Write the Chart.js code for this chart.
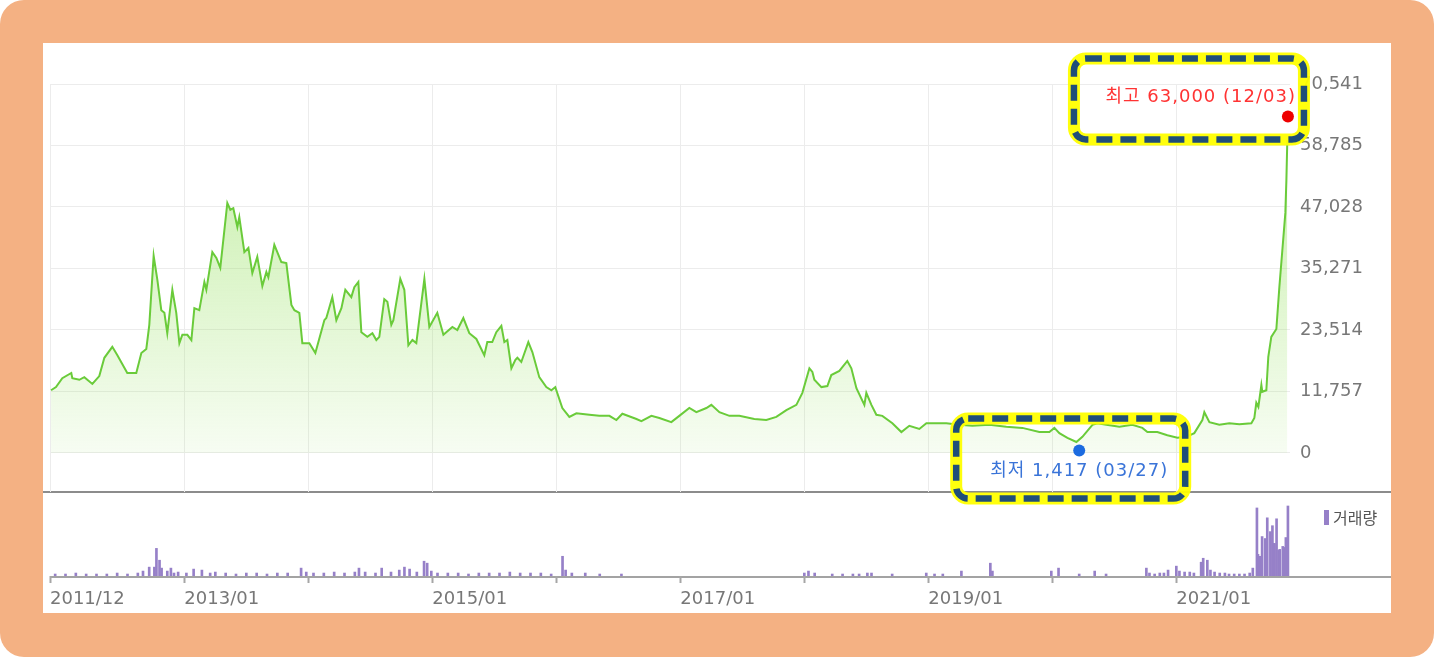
<!DOCTYPE html>
<html lang="ko">
<head>
<meta charset="utf-8">
<title>주가 차트</title>
<script src="https://cdn.jsdelivr.net/npm/chart.js@4.4.1/dist/chart.umd.min.js"></script>
<style>
  html, body { margin: 0; padding: 0; background: #fff; }
  #frame { position: relative; width: 1434px; height: 657px; background: #f4b183; border-radius: 24px; overflow: hidden; }
  #panel { position: absolute; left: 43px; top: 43px; width: 1348px; height: 570px; background: #fff; }
  .rule { position: absolute; }
  #divider { left: 0; top: 448px; width: 1348px; height: 2px; background: #8c8c8c; }
  #baseline { left: 7px; top: 533px; width: 1341px; height: 2px; background: #a3a3a3; }
  canvas { position: absolute; left: 0; }
  #priceChart { top: 0; }
  #volumeChart { top: 450px; }
</style>
</head>
<body>
<div id="frame">
  <div id="panel">
    <div class="rule" id="divider"></div>
    <div class="rule" id="baseline"></div>
    <canvas id="volumeChart" width="1348" height="120"></canvas>
    <canvas id="priceChart" width="1348" height="570"></canvas>
  </div>
</div>
<script>
// x 위치는 2011/12 부터의 개월 수
var priceMonth = [
  0.1,0.58,1.19,2.06,2.16,2.84,3.32,4.1,4.77,5.26,
  6.03,6.52,7.48,8.35,8.84,9.32,9.61,10.03,10.39,10.77,
  11.07,11.35,11.84,12.22,12.52,12.81,13.29,13.68,13.97,14.45,
  14.94,15.13,15.71,16.1,16.48,17.16,17.45,17.74,18.13,18.32,
  18.81,19.2,19.58,20.06,20.55,20.94,21.13,21.71,22.39,22.87,
  23.36,23.65,24.13,24.42,25.1,25.68,26.55,26.74,27.32,27.71,
  28.2,28.58,29.16,29.45,29.84,30.13,30.71,31.2,31.58,31.87,
  32.35,32.65,33.03,33.23,33.9,34.29,34.68,35.07,35.45,36.23,
  36.71,37.48,38.07,38.94,39.42,40.0,40.58,41.26,42.03,42.32,
  42.8,43.19,43.68,43.97,44.26,44.65,45.04,45.23,45.61,46.29,
  46.68,47.35,48.03,48.52,48.9,49.58,50.26,50.94,52.2,53.16,
  54.13,54.81,55.39,56.75,57.23,58.2,58.97,60.13,60.9,61.87,
  62.55,63.52,64.0,64.78,65.75,66.71,68.16,69.32,70.29,71.26,
  72.23,72.81,73.49,73.78,73.97,74.65,75.23,75.61,76.39,76.68,
  77.16,77.55,78.04,78.81,79.0,79.49,79.97,80.55,81.52,82.39,
  83.16,84.13,84.81,85.77,86.74,88.0,89.26,90.9,92.55,94.1,
  95.74,96.71,97.2,97.68,98.46,99.33,99.91,100.88,101.36,102.23,
  103.49,104.74,105.71,106.2,107.16,108.13,109.1,109.97,110.74,111.52,
  111.71,112.2,113.16,114.13,115.1,116.26,116.55,116.74,116.94,117.23,
  117.32,117.71,117.9,118.19,118.68,118.97,119.26,119.55,119.65,119.74
];
var priceClose = [
  12000,12600,14300,15300,14300,14000,14500,13200,14700,18200,
  20300,18700,15300,15300,19100,19900,24500,37700,33100,27300,
  26800,22900,31200,26800,21000,22600,22600,21600,27700,27300,
  32700,31200,38400,37300,35400,47800,46500,46800,43200,45100,
  38400,39200,34400,37500,31900,34600,33600,39800,36500,36300,
  28300,27300,26800,21000,21000,19100,25400,25800,29800,25400,
  27700,31200,29800,31700,32700,23100,22200,22900,21600,22200,
  29400,28900,24500,25400,33300,31200,20600,21600,21000,33300,
  24100,26800,22600,24100,23500,25800,22900,21800,18700,21200,
  21200,23100,24300,21200,21600,16200,17800,18200,17400,21200,
  19300,14500,12600,12000,12600,8600,6900,7600,7300,7100,
  7100,6300,7500,6500,6100,7100,6700,5900,7100,8600,
  7800,8600,9200,7800,7100,7100,6500,6300,6900,8200,
  9200,11500,16200,15500,14000,12600,12800,14900,15700,16400,
  17600,16200,12400,9200,11500,9200,7300,7100,5700,4000,
  5200,4600,5700,5700,5700,5400,5200,5400,5000,4800,
  4000,4000,4800,3800,2900,2100,3100,5400,5700,5400,
  5000,5400,4800,4000,4000,3400,2900,3100,3800,6300,
  7800,5900,5400,5700,5500,5700,6700,9600,8800,13000,
  11700,12000,18400,22200,23700,31700,38800,45900,52200,59800
];

var volMonth = [
  0.5,1.5,2.5,3.5,4.5,5.5,6.5,7.5,8.5,9.0,
  9.6,10.1,10.3,10.6,10.8,11.35,11.7,12.0,12.4,13.2,
  13.9,14.7,15.5,16.0,17.0,18.0,19.0,20.0,21.0,22.0,
  23.0,24.3,24.8,25.5,26.5,27.5,28.5,29.5,29.9,30.5,
  31.5,32.1,33.0,33.8,34.3,34.8,35.5,36.2,36.5,36.9,
  37.5,38.5,39.5,40.5,41.5,42.5,43.5,44.5,45.5,46.5,
  47.5,48.5,49.6,49.9,50.5,51.8,53.2,55.3,73.0,73.4,
  74.0,75.7,76.7,77.7,78.3,79.1,79.5,81.5,84.8,85.6,
  86.4,88.2,91.0,91.2,96.9,97.6,99.6,101.1,102.2,106.1,
  106.4,106.9,107.4,107.8,108.2,109.0,109.3,109.8,110.3,110.7,
  111.4,111.6,112.0,112.3,112.7,113.2,113.7,114.1,114.6,115.1,
  115.6,116.1,116.4,116.8,116.9,117.1,117.3,117.6,117.8,118.1,
  118.3,118.4,118.5,118.7,118.9,119.0,119.3,119.4,119.6,119.8
];
var volAmount = [
  2,2,3,2,2,2,3,2,3,5,
  9,9,28,16,8,5,8,3,4,3,
  7,6,3,4,3,2,3,3,2,3,
  3,8,4,3,3,4,3,4,8,4,
  3,8,4,6,9,7,4,15,13,5,
  3,3,3,2,3,3,3,4,3,3,
  3,2,20,6,3,3,2,2,3,5,
  3,2,2,2,2,3,3,2,3,2,
  2,5,13,5,5,8,2,5,2,8,
  3,2,3,3,6,10,5,4,4,3,
  14,18,16,6,4,3,3,2,2,2,
  2,3,8,69,22,20,40,38,59,45,
  51,33,33,58,26,27,30,29,39,71
];

var yTicks = [0, 11757, 23514, 35271, 47028, 58785, 70541];
var xTickMonth = [0, 13, 25, 37, 49, 61, 73, 85, 97, 109];
var xTickLabel = ['2011/12', '2013/01', '', '2015/01', '', '2017/01', '', '2019/01', '', '2021/01'];

var highMark = { month: 119.8, value: 63000, label: '최고 63,000 (12/03)' };
var lowMark = { month: 99.6, value: 1417, label: '최저 1,417 (03/27)' };

var textFont = '"DejaVu Sans", "Noto Sans CJK KR", sans-serif';
var gridColor = '#ececec';

function dot(ctx, x, y, color) {
    ctx.beginPath();
    ctx.arc(x, y, 6, 0, Math.PI * 2);
    ctx.fillStyle = color;
    ctx.fill();
}

function highlight(ctx, x, y, w, h) {
    ctx.beginPath();
    ctx.roundRect(x, y, w, h, 12);
    ctx.setLineDash([]);
    ctx.lineWidth = 12;
    ctx.strokeStyle = 'rgba(255,255,0,0.95)';
    ctx.stroke();
    ctx.setLineDash([16, 8]);
    ctx.lineWidth = 6.5;
    ctx.strokeStyle = '#1f4e79';
    ctx.stroke();
}

var markPlugin = {
    id: 'marks',
    afterDraw: function(chart) {
        var ctx = chart.ctx, x = chart.scales.x, y = chart.scales.y;
        // dots sit a little outside the close line, like the original
        var hx = x.getPixelForValue(highMark.month), hy = y.getPixelForValue(highMark.value) - 7;
        var lx = x.getPixelForValue(lowMark.month), ly = y.getPixelForValue(lowMark.value) + 5;
        ctx.save();
        dot(ctx, hx, hy, '#ee0000');
        dot(ctx, lx, ly, '#1b6be0');
        ctx.font = '18px ' + textFont;
        ctx.letterSpacing = '1px';
        ctx.textBaseline = 'middle';
        ctx.fillStyle = '#ff3333';
        ctx.textAlign = 'right';
        ctx.fillText(highMark.label, hx + 8, hy - 19);
        ctx.fillStyle = '#3a74d8';
        ctx.textAlign = 'center';
        ctx.fillText(lowMark.label, lx, ly + 21);
        highlight(ctx, hx - 214, hy - 58, 230, 81);
        highlight(ctx, lx - 123, ly - 32, 229, 80);
        ctx.restore();
    }
};

var volLegend = {
    id: 'volLegend',
    afterDraw: function(chart) {
        var ctx = chart.ctx, area = chart.chartArea;
        ctx.save();
        ctx.fillStyle = '#9680c8';
        ctx.fillRect(area.right + 34, 17, 5, 15);
        ctx.fillStyle = '#555';
        ctx.font = '16px "Noto Sans CJK KR", sans-serif';
        ctx.textBaseline = 'middle';
        ctx.fillText('거래량', area.right + 43, 25);
        ctx.restore();
    }
};

var priceChart = new Chart(document.getElementById('priceChart'), {
    type: 'line',
    data: {
        datasets: [{
            data: priceMonth.map(function(m, i) { return { x: m, y: priceClose[i] }; }),
            borderColor: '#6acb3a',
            borderWidth: 2,
            pointRadius: 0,
            tension: 0,
            fill: 'origin',
            backgroundColor: function(c) {
                var chart = c.chart, area = chart.chartArea;
                if (!area) return 'rgba(150,225,95,0.3)';
                var g = chart.ctx.createLinearGradient(0, area.top, 0, chart.scales.y.getPixelForValue(0));
                g.addColorStop(0, 'rgba(150,225,95,0.6)');
                g.addColorStop(1, 'rgba(150,225,95,0.08)');
                return g;
            }
        }]
    },
    options: {
        responsive: false,
        animation: false,
        layout: { padding: { left: 7, top: 41, right: 0, bottom: 121 } },
        plugins: { legend: { display: false }, tooltip: { enabled: false } },
        scales: {
            x: {
                type: 'linear', min: 0, max: 120,
                afterBuildTicks: function(s) { s.ticks = xTickMonth.map(function(v) { return { value: v }; }); },
                afterFit: function(s) { s.height = 0; },
                ticks: { display: false },
                grid: { color: gridColor, drawTicks: false },
                border: { display: false }
            },
            y: {
                position: 'right', min: -7456, max: 70541,
                afterBuildTicks: function(s) { s.ticks = yTicks.map(function(v) { return { value: v }; }); },
                afterFit: function(s) { s.width = 101; },
                ticks: {
                    padding: 10, color: '#777',
                    font: { family: textFont, size: 18 },
                    callback: function(v) { return v.toLocaleString('en-US'); }
                },
                grid: { color: gridColor, drawTicks: false },
                border: { display: false }
            }
        }
    },
    plugins: [markPlugin]
});

var volumeChart = new Chart(document.getElementById('volumeChart'), {
    type: 'bar',
    data: {
        datasets: [{
            data: volMonth.map(function(m, i) { return { x: m, y: volAmount[i] }; }),
            backgroundColor: '#9680c8',
            barThickness: 2
        }]
    },
    options: {
        responsive: false,
        animation: false,
        layout: { padding: { left: 7, top: 12, right: 101, bottom: 0 } },
        plugins: { legend: { display: false }, tooltip: { enabled: false } },
        scales: {
            x: {
                type: 'linear', min: 0, max: 120, offset: false,
                afterBuildTicks: function(s) { s.ticks = xTickMonth.map(function(v) { return { value: v }; }); },
                afterFit: function(s) { s.height = 37; },
                grid: { drawOnChartArea: false, drawTicks: true, tickLength: 7, tickWidth: 2, tickColor: '#a6a6a6', offset: false },
                border: { display: false },
                ticks: {
                    autoSkip: false, maxRotation: 0, align: 'start', padding: 6,
                    color: '#777', font: { family: textFont, size: 18 },
                    callback: function(v, i) { return xTickLabel[i]; }
                }
            },
            y: { display: false, min: 0, max: 72 }
        }
    },
    plugins: [volLegend]
});
</script>
</body>
</html>
